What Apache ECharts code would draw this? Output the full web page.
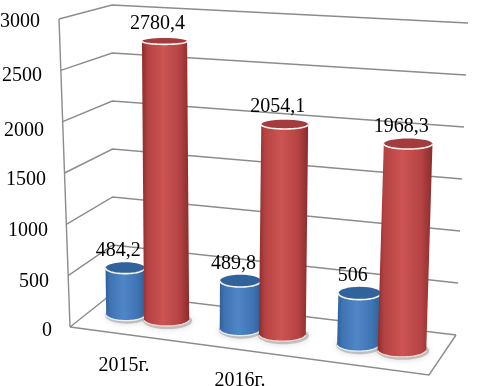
<!DOCTYPE html>
<html>
<head>
<meta charset="utf-8">
<style>html,body{margin:0;padding:0;background:#fff}#c{width:489px;height:386px}</style>
<script src="https://cdn.jsdelivr.net/npm/echarts@6/dist/echarts.min.js"></script>
</head>
<body>
<div id="c"></div>
<script>
// Data
var categories = ['2015г.', '2016г.', ''];
var blueValues = [484.2, 489.8, 506];
var redValues = [2780.4, 2054.1, 1968.3];
var yTicks = [0, 500, 1000, 1500, 2000, 2500, 3000];

// Perspective box corners (layout only)
var box = {
  FLb: [70, 327], FRb: [429, 375], BLb: [113, 293], BRb: [456, 335],
  FLt: [59, 19], FRt: [440, 48], BLt: [112, 5], BRt: [468, 23]
};
function lerp(a, b, k) { return [a[0] + (b[0] - a[0]) * k, a[1] + (b[1] - a[1]) * k]; }
function project(u, v, t) {
  var bottom = lerp(lerp(box.FLb, box.FRb, u), lerp(box.BLb, box.BRb, u), v);
  var top = lerp(lerp(box.FLt, box.FRt, u), lerp(box.BLt, box.BRt, u), v);
  return lerp(bottom, top, t);
}
var FONT = '"Liberation Serif","Times New Roman",serif';
var GRID = { left: 66, width: 348, top: 20, height: 308 };
var LINE = '#8c8c8c';

function heightOf(api, val) {
  var y0 = api.coord([0, 0])[1], y3 = api.coord([0, 3000])[1];
  return (y0 - api.coord([0, val])[1]) / (y0 - y3);
}
function poly(points, stroke, width) {
  return { type: 'polyline', shape: { points: points }, style: { fill: null, stroke: stroke, lineWidth: width } };
}
function renderWalls(params, api) {
  var val = api.value(0);
  var t = heightOf(api, val);
  var children = [poly([project(0, 0, t), project(0, 1, t), project(1, 1, t)], LINE, 1.4)];
  if (val === 0) {
    children.push(poly([project(0, 0, 0), project(1, 0, 0), project(1, 1, 0)], LINE, 1.4));
    children.push(poly([project(0, 0, 0), project(0, 0, 1)], LINE, 1.4));
  }
  return { type: 'group', children: children };
}
function arc(c, rx, ry, from, to) {
  var pts = [];
  for (var i = 0; i <= 32; i++) {
    var a = from + (to - from) * i / 32;
    pts.push([c[0] + rx * Math.cos(a), c[1] + ry * Math.sin(a)]);
  }
  return pts;
}
function cylinder(opt) {
  return function (params, api) {
    var cat = api.value(0), val = api.value(1);
    var s = (api.coord([cat, 0])[0] - GRID.left) / GRID.width;
    var u = s + opt.shift;
    u = u + 0.05 * u * (u - 1);
    var v = 0.5, rv = 0.18;
    var t = heightOf(api, val);
    var bc = project(u, v, 0), tc = project(u, v, t);
    tc[1] += 2;
    var rx = opt.radius * (1 + 0.12 * u);
    var ryB = Math.abs(project(u, v + rv, 0)[1] - project(u, v - rv, 0)[1]) / 2;
    var ryT = Math.abs(project(u, v + rv, t)[1] - project(u, v - rv, t)[1]) / 2;
    var bodyPts = arc(bc, rx, ryB, 0, Math.PI).concat([[tc[0] - rx, tc[1]], [tc[0] + rx, tc[1]]]);
    var grad = new echarts.graphic.LinearGradient(0, 0, 1, 0, [
      { offset: 0, color: opt.edge }, { offset: 0.12, color: opt.mid },
      { offset: 0.45, color: opt.light }, { offset: 0.8, color: opt.mid },
      { offset: 1, color: opt.edge }
    ]);
    var label = String(val).replace('.', ',');
    return {
      type: 'group',
      children: [
        { type: 'ellipse', shape: { cx: bc[0] + 1, cy: bc[1] + 1, rx: rx + 2, ry: ryB + 2 },
          style: { fill: 'rgba(140,140,140,0.45)', shadowBlur: 6, shadowColor: 'rgba(140,140,140,0.7)' } },
        { type: 'polygon', shape: { points: bodyPts }, style: { fill: grad } },
        poly(arc(bc, rx, ryB, 0.1, Math.PI - 0.1), opt.rim, 1.4),
        { type: 'ellipse', shape: { cx: tc[0], cy: tc[1], rx: rx, ry: ryT }, style: { fill: opt.top } },
        poly(arc(tc, rx, ryT, 0, Math.PI), '#fdf6f0', 1.6),
        { type: 'text', style: { text: label, x: tc[0] - 7, y: tc[1] - 17.5, textAlign: 'center', textVerticalAlign: 'middle',
          fontFamily: FONT, fontSize: 20, fill: '#000' } }
      ]
    };
  };
}
function pairs(values) { return values.map(function (v, i) { return [i, v]; }); }

var yLabelPad = { 3000: [4, 12, 0, 0], 2500: [9, 10, 0, 0], 2000: [17, 8, 0, 0], 1500: [12, 6, 0, 0], 1000: [11, 4, 0, 0], 500: [11, 3, 0, 0], 0: [6, 0, 0, 0] };
var yRich = {};
Object.keys(yLabelPad).forEach(function (k) {
  yRich['l' + k] = { padding: yLabelPad[k], fontFamily: FONT, fontSize: 20, color: '#000' };
});

var chart = echarts.init(document.getElementById('c'), null, { renderer: 'canvas' });
chart.setOption({
  animation: false,
  backgroundColor: '#fff',
  grid: { left: GRID.left, width: GRID.width, top: GRID.top, height: GRID.height, outerBoundsMode: 'none' },
  xAxis: {
    type: 'category', data: categories,
    axisLine: { show: false }, axisTick: { show: false }, splitLine: { show: false },
    axisLabel: {
      margin: 28, interval: 0,
      formatter: function (v, i) { return '{c' + i + '|' + v + '}'; },
      rich: {
        c0: { fontFamily: FONT, fontSize: 20, color: '#000' },
        c1: { fontFamily: FONT, fontSize: 20, color: '#000', padding: [15, 0, 0, 0] },
        c2: { fontFamily: FONT, fontSize: 20, color: '#000' }
      }
    }
  },
  yAxis: {
    type: 'value', min: 0, max: 3000, interval: 500,
    axisLine: { show: false }, axisTick: { show: false }, splitLine: { show: false },
    axisLabel: { margin: 14, formatter: function (v) { return '{l' + v + '|' + v + '}'; }, rich: yRich }
  },
  series: [
    { type: 'custom', name: 'walls', z: 1, silent: true, clip: false, renderItem: renderWalls,
      data: yTicks.map(function (v) { return [v]; }), encode: { y: 0 } },
    { type: 'custom', name: 'blue', z: 2, clip: false, data: pairs(blueValues), encode: { x: 0, y: 1 },
      renderItem: cylinder({ shift: -0.064, radius: 19.5, edge: '#2f5f97', mid: '#3f74b3', light: '#4f86c6', top: '#30629c', rim: '#e8f1fb' }) },
    { type: 'custom', name: 'red', z: 3, clip: false, data: pairs(redValues), encode: { x: 0, y: 1 },
      renderItem: cylinder({ shift: 0.056, radius: 22, edge: '#8a2c2d', mid: '#b54243', light: '#cc5453', top: '#a43b3e', rim: '#f6d9d3' }) }
  ]
});
</script>
</body>
</html>
